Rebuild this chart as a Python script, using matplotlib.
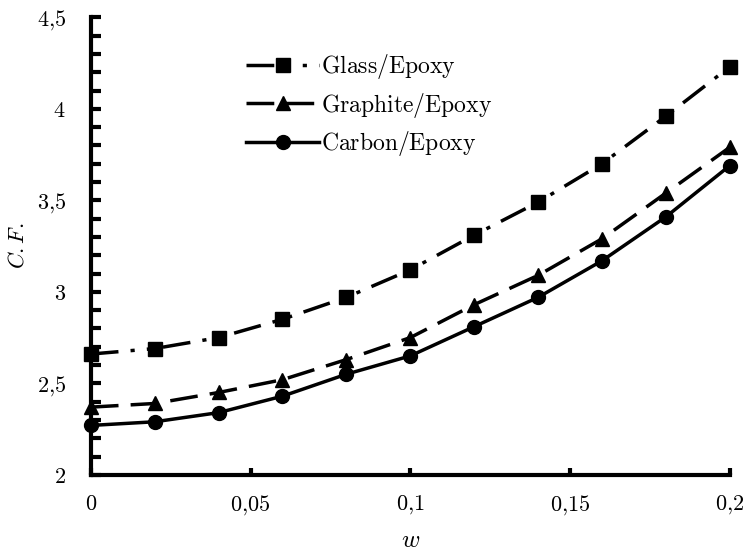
import matplotlib
matplotlib.use("Agg")
import matplotlib.pyplot as plt
from matplotlib.ticker import MultipleLocator, FuncFormatter

# computer-modern look for every piece of text
plt.rcParams['mathtext.fontset'] = 'cm'
plt.rcParams['font.family'] = 'serif'
plt.rcParams['font.serif'] = ['DejaVu Serif']

w = [0, 0.02, 0.04, 0.06, 0.08, 0.10, 0.12, 0.14, 0.16, 0.18, 0.20]
glass = [2.66, 2.69, 2.75, 2.85, 2.97, 3.12, 3.31, 3.49, 3.70, 3.96, 4.23]
graphite = [2.37, 2.39, 2.45, 2.52, 2.63, 2.75, 2.93, 3.09, 3.29, 3.54, 3.79]
carbon = [2.27, 2.29, 2.34, 2.43, 2.55, 2.65, 2.81, 2.97, 3.17, 3.41, 3.69]

fig = plt.figure(figsize=(7.44, 5.58), dpi=100)
ax = fig.add_axes([0.122, 0.149, 0.859, 0.820])

ax.plot(w, glass, color='black', lw=2.5, marker='s', ms=9.5,
        dashes=(8, 3.5, 1.2, 3.5, 1.2, 3.5), label=r'$\mathrm{Glass/Epoxy}$', clip_on=False)
ax.plot(w, graphite, color='black', lw=2.5, marker='^', ms=10,
        dashes=(8, 3.5), label=r'$\mathrm{Graphite/Epoxy}$', clip_on=False)
ax.plot(w, carbon, color='black', lw=2.5, marker='o', ms=10,
        label=r'$\mathrm{Carbon/Epoxy}$', clip_on=False)

ax.set_xlim(0, 0.2)
ax.set_ylim(2, 4.5)

for side in ['top', 'right']:
    ax.spines[side].set_visible(False)
for side in ['left', 'bottom']:
    ax.spines[side].set_linewidth(3)

ax.xaxis.set_major_locator(MultipleLocator(0.05))
ax.yaxis.set_major_locator(MultipleLocator(0.5))
ax.yaxis.set_minor_locator(MultipleLocator(0.1))


def comma(v, pos):
    s = ('%.2f' % v).rstrip('0').rstrip('.')
    return r'$\mathrm{' + s.replace('.', '{,}') + '}$'


ax.xaxis.set_major_formatter(FuncFormatter(comma))
ax.yaxis.set_major_formatter(FuncFormatter(comma))
ax.tick_params(axis='both', which='both', direction='in', width=3, labelsize=16)
ax.tick_params(axis='y', which='major', length=7, pad=18)
ax.tick_params(axis='y', which='minor', length=7)
ax.tick_params(axis='x', which='major', length=5, pad=13)

ax.set_xlabel(r'$w$', fontsize=18)
ax.set_ylabel(r'$C.F.$', fontsize=16)
ax.xaxis.set_label_coords(0.5, -0.118)
ax.yaxis.set_label_coords(-0.098, 0.5)

ax.legend(loc='upper left', bbox_to_anchor=(0.21, 0.97), frameon=False,
          fontsize=17, handlelength=3.1, handletextpad=0.05, labelspacing=0.4)

fig.savefig('out.png', dpi=100)
